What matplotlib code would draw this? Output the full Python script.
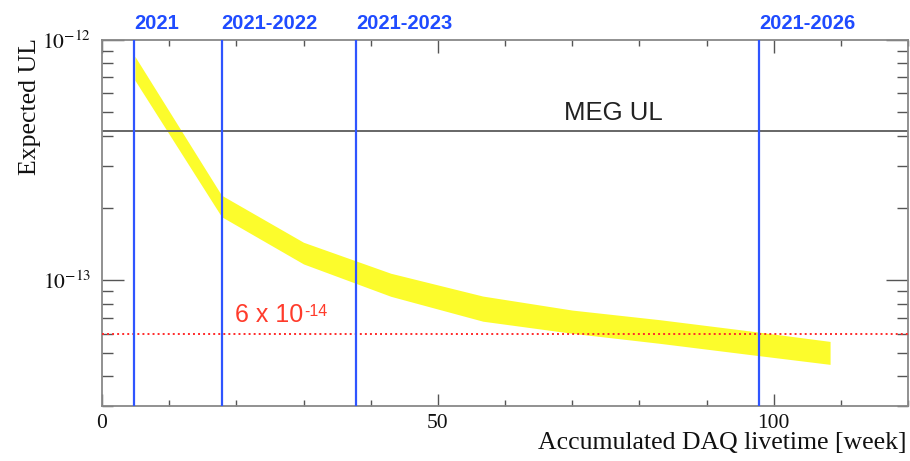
import matplotlib
matplotlib.use("Agg")
import matplotlib.pyplot as plt
from matplotlib.ticker import FixedLocator, LogLocator, NullFormatter, MultipleLocator

# ---- data ----
weeks = [4.9, 17.8, 30.0, 43.0, 56.7, 70.0, 83.0, 96.0, 108.4]
ul_upper = [8.55e-13, 2.26e-13, 1.44e-13, 1.07e-13, 8.6e-14, 7.52e-14, 6.86e-14, 6.18e-14, 5.57e-14]
ul_lower = [6.8e-13, 1.84e-13, 1.17e-13, 8.58e-14, 6.76e-14, 6.02e-14, 5.47e-14, 4.93e-14, 4.47e-14]

run_weeks = [4.8, 17.8, 37.8, 97.8]
run_labels = ["2021", "2021-2022", "2021-2023", "2021-2026"]

meg_ul = 4.2e-13
target = 6e-14
target_label = "6 x 10"
target_exp = "-14"

x_major = [0, 50, 100]
y_major = [1e-13, 1e-12]

plt.rcParams['mathtext.fontset'] = 'stix'

fig = plt.figure(figsize=(9.10, 4.61), dpi=100)
ax = fig.add_axes([102/910, 1-406/461, (908-102)/910, (406-40)/461])

ax.set_yscale('log')
ax.set_xlim(0, 120)
ax.set_ylim(3e-14, 1e-12)

ax.fill_between(weeks, ul_lower, ul_upper, color='#fcfc2c', lw=0, zorder=1)
ax.axhline(meg_ul, color='#666666', lw=1.4, zorder=2)
ax.axhline(target, color='#ff2a2a', lw=1.4, ls=(0, (1, 1.6)), zorder=3)
for w, lab in zip(run_weeks, run_labels):
    ax.axvline(w, color='#2f55ff', lw=1.6, zorder=4)
    ax.text(w, 1.02, lab, transform=ax.get_xaxis_transform(), ha='left', va='bottom',
            color='#1f4bff', fontsize=14.5, fontweight='bold', family='Liberation Sans')

ax.text(0.635, 0.80, "MEG UL", transform=ax.transAxes, ha='center', va='center',
        fontsize=18.5, color='#222222', family='Liberation Sans')
off = matplotlib.transforms.ScaledTranslation(0, 5/72, fig.dpi_scale_trans)
t = ax.text(0.165, target, target_label, transform=ax.get_yaxis_transform() + off,
            ha='left', va='bottom', fontsize=18, color='#ff3b2b', family='Liberation Sans')
ax.annotate(target_exp, xy=(1, 1), xycoords=t, xytext=(1, -1), textcoords='offset points',
            ha='left', va='top', fontsize=11.5, color='#ff3b2b', family='Liberation Sans')

ax.xaxis.set_major_locator(FixedLocator(x_major))
ax.xaxis.set_minor_locator(MultipleLocator(10))
ax.yaxis.set_major_locator(FixedLocator(y_major))
ax.yaxis.set_minor_locator(LogLocator(base=10, subs=range(2, 10), numticks=20))
ax.yaxis.set_minor_formatter(NullFormatter())
ax.set_yticklabels([r'$10^{-13}$', r'$10^{-12}$'])

ax.tick_params(which='both', direction='in', top=True, right=True, color='#555555', width=1.0)
ax.tick_params(axis='x', which='major', length=9, pad=6)
ax.tick_params(axis='x', which='minor', length=4.5)
ax.tick_params(axis='y', which='major', length=16, pad=8)
ax.tick_params(axis='y', which='minor', length=8)
for lab in ax.get_xticklabels() + ax.get_yticklabels():
    lab.set_family('Liberation Serif')
    lab.set_fontsize(15.5)
    lab.set_color('#111111')

for s in ax.spines.values():
    s.set_color('#888888')
    s.set_linewidth(1.3)

fig.text(907/910, 1-443/461, "Accumulated DAQ livetime [week]", ha='right', va='center',
         fontsize=18.5, family='Liberation Serif', color='#111111')
fig.text(30/910, 1-38/461, "Expected UL", rotation=90, ha='center', va='top',
         fontsize=18.5, family='Liberation Serif', color='#111111')

fig.savefig("out.png", dpi=100)
